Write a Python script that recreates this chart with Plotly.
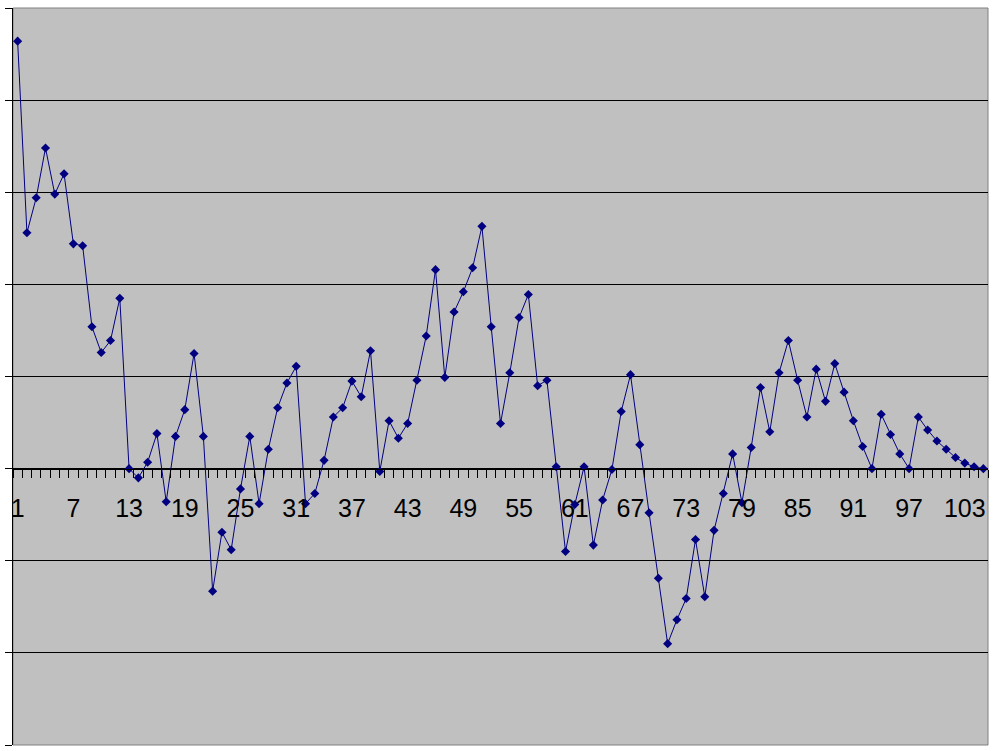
import plotly.graph_objects as go

categories = list(range(1, 106))
values = [
    4.64, 2.56, 2.94, 3.48, 2.98, 3.20, 2.44, 2.42, 1.54, 1.26,
    1.39, 1.85, 0.00, -0.10, 0.07, 0.38, -0.36, 0.35, 0.64, 1.25,
    0.35, -1.33, -0.69, -0.88, -0.22, 0.35, -0.38, 0.21, 0.66, 0.93,
    1.11, -0.38, -0.27, 0.09, 0.56, 0.66, 0.95, 0.78, 1.28, -0.03,
    0.52, 0.33, 0.49, 0.96, 1.44, 2.16, 0.99, 1.70, 1.92, 2.18,
    2.63, 1.54, 0.49, 1.04, 1.64, 1.89, 0.90, 0.96, 0.02, -0.90,
    -0.39, 0.02, -0.83, -0.34, -0.01, 0.62, 1.02, 0.26, -0.48, -1.19,
    -1.90, -1.64, -1.41, -0.77, -1.39, -0.67, -0.27, 0.16, -0.37, 0.23,
    0.88, 0.40, 1.04, 1.39, 0.96, 0.56, 1.08, 0.73, 1.14, 0.83,
    0.52, 0.24, 0.00, 0.59, 0.37, 0.16, 0.00, 0.56, 0.42, 0.30,
    0.21, 0.12, 0.06, 0.02, 0.00,
]
tick_labels = [str(v) for v in range(1, 106, 6)]
tick_positions = list(range(1, 106, 6))
y_min, y_max = -3, 5

fig = go.Figure()
fig.add_trace(go.Scatter(
    x=categories, y=values, mode="lines+markers",
    line=dict(color="#000080", width=1),
    marker=dict(symbol="diamond", size=7, color="#000080"),
    showlegend=False,
))

fig.update_layout(
    width=997, height=751,
    margin=dict(l=10, r=9, t=8, b=6),
    paper_bgcolor="white",
    plot_bgcolor="#C0C0C0",
    font=dict(family="Liberation Sans, Arial", size=25, color="black"),
    xaxis=dict(
        range=[0.5, 105.5],
        tickmode="array", tickvals=tick_positions, ticktext=tick_labels,
        ticks="", showgrid=False, zeroline=False,
        showline=True, linecolor="black", linewidth=1,
        anchor="free", position=(0 - y_min) / (y_max - y_min),
        tickfont=dict(size=25),
        ticklabelstandoff=17,
        minor=dict(tickmode="array",
                   tickvals=[c - 0.5 for c in categories] + [categories[-1] + 0.5],
                   ticks="outside", ticklen=8, tickcolor="black", tickwidth=1,
                   showgrid=False),
    ),
    yaxis=dict(
        range=[y_min, y_max], dtick=1, tick0=0,
        showgrid=True, gridcolor="black", gridwidth=1,
        zeroline=True, zerolinecolor="black", zerolinewidth=1,
        showline=True, linecolor="black", linewidth=1,
        ticks="outside", ticklen=7, tickcolor="black",
        showticklabels=False,
    ),
    shapes=[dict(type="rect", xref="paper", yref="paper", x0=0, x1=1, y0=0, y1=1,
                 line=dict(color="#808080", width=1), layer="below")],
)

fig.write_html("out.html", config={"displayModeBar": False},
               post_script="document.body.style.margin='0';")
